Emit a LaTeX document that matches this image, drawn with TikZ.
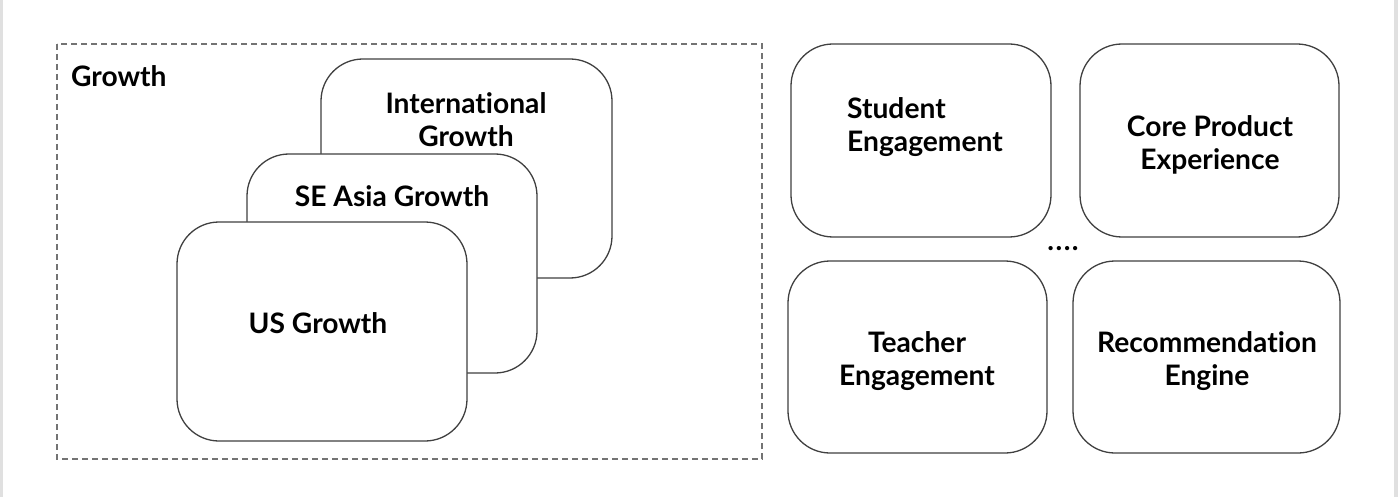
\documentclass[tikz,border=0pt]{standalone}
\usepackage{fontspec}
\setmainfont{Lato}[Ligatures={NoCommon,NoRare,NoDiscretionary},Contextuals=NoAlternate]
\begin{document}
\begin{tikzpicture}[x=1pt,y=-1pt,
  box/.style={draw=black!75,line width=1.3pt,rounded corners=42pt,fill=white},
  lbl/.style={font=\bfseries\fontsize{28.2}{33}\selectfont,text=black,align=center,inner sep=0pt},
  grp/.style={draw=black!55,line width=1.5pt,dash pattern=on 6pt off 4pt}]
\useasboundingbox (0,0) rectangle (1400,497);
\fill[white] (0,0) rectangle (1400,497);
\fill[black!12] (0,0) rectangle (2.5,497);
\fill[black!12] (1394,0) rectangle (1398,497);
% group
\draw[grp] (57,44) rectangle (762,459);
\node[lbl,anchor=west] (glbl) at (71,76) {Growth};
% stacked boxes
\draw[box] (321,59) rectangle (612,278);
\node[lbl] (intl) at (466,120) {International\\Growth};
\draw[box] (247,154) rectangle (537,373);
\node[lbl] (sea) at (392,196) {SE Asia Growth};
\draw[box] (177,222) rectangle (467,441);
\node[lbl] (us) at (318,323) {US Growth};
% right grid
\draw[box] (791,44) rectangle (1051,237);
\node[lbl,anchor=west,align=left] (stud) at (847,127) {Student\\Engagement};
\draw[box] (1080,44) rectangle (1339,237);
\node[lbl] (core) at (1210,145) {Core Product\\Experience};
\draw[box] (788,261) rectangle (1047,453);
\node[lbl] (teach) at (917,361) {Teacher\\Engagement};
\draw[box] (1073,261) rectangle (1340,453);
\node[lbl] (rec) at (1207,361) {Recommendation\\Engine};
\node[lbl] (dots) at (1063,249) {.\kern1.5pt.\kern1.5pt.\kern1.5pt.};
\end{tikzpicture}
\end{document}
